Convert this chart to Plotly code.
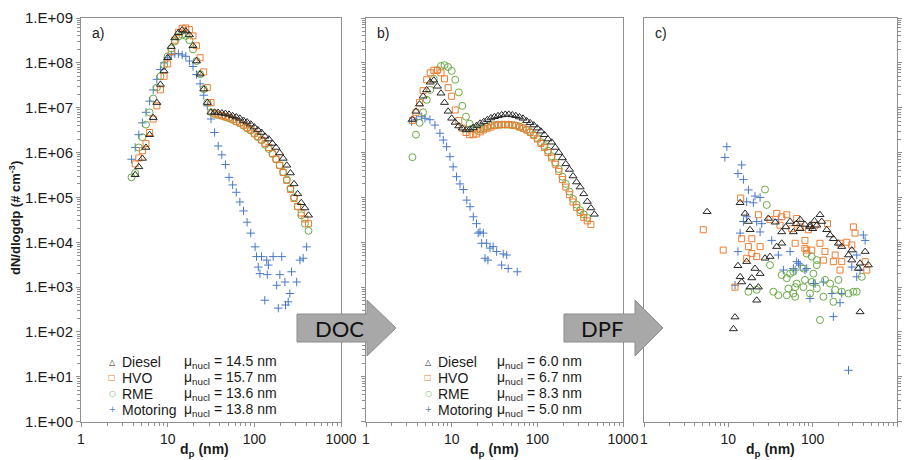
import plotly.graph_objects as go

# ---------------------------------------------------------------------------
# Particle number size distributions (dN/dlogdp, # cm^-3) vs mobility diameter
# a) engine out, b) after DOC, c) after DPF
# ---------------------------------------------------------------------------

fuels = ["Diesel", "HVO", "RME", "Motoring"]
mu_nucl_a = [14.5, 15.7, 13.6, 13.8]
mu_nucl_b = [6.0, 6.7, 8.3, 5.0]

# ----- panel a: engine out -----
dp_a = [3.83, 4.22, 4.64, 5.11, 5.62, 6.19, 6.81, 7.50, 8.25, 9.09, 10.0, 11.0, 12.1,
        13.3, 14.7, 16.2, 17.8, 19.6, 21.5, 23.7, 26.1, 28.7, 31.6, 34.8, 38.3, 42.2,
        46.4, 51.1, 56.2, 61.9, 68.1, 75.0, 82.5, 90.9, 100, 110, 121, 133, 147, 162,
        178, 196, 215, 237, 261, 287, 316, 348, 383, 422]
diesel_a = [None, 3.2e5, 4.8e5, 7.4e5, 1.3e6, 2.5e6, 6.0e6, 1.3e7, 3.3e7, 6.6e7, 1.3e8,
            2.3e8, 3.6e8, 4.7e8, 5.4e8, 5.1e8, 4.2e8, 2.4e8, 1.1e8, 5.6e7, 2.6e7, 1.3e7,
            7.9e6, 7.9e6, 7.8e6, 7.6e6, 7.4e6, 7.1e6, 6.6e6, 6.2e6, 5.8e6, 5.2e6, 4.8e6,
            4.3e6, 3.7e6, 3.2e6, 2.8e6, 2.3e6, 2.0e6, 1.6e6, 1.3e6, 9.8e5, 7.4e5, 5.2e5,
            3.5e5, 2.0e5, 1.2e5, 7.6e4, 5.8e4, 4.0e4]
hvo_a = [None, 5.6e5, 7.6e5, 1.1e6, 1.6e6, 2.8e6, 5.6e6, 1.1e7, 2.5e7, 5.0e7, 9.5e7,
         1.8e8, 3.2e8, 4.8e8, 5.9e8, 6.0e8, 5.5e8, 4.0e8, 2.4e8, 1.3e8, 6.3e7, 2.8e7,
         1.3e7, 7.6e6, 6.9e6, 6.6e6, 6.3e6, 6.0e6, 5.5e6, 5.0e6, 4.6e6, 4.1e6, 3.6e6,
         3.2e6, 2.7e6, 2.3e6, 1.9e6, 1.6e6, 1.3e6, 9.5e5, 7.2e5, 5.2e5, 3.6e5, 2.4e5,
         1.5e5, 9.5e4, 6.3e4, 4.5e4, 3.3e4, 2.6e4]
rme_a = [2.8e5, 3.5e5, 1.3e6, 2.2e6, 4.2e6, 7.9e6, 1.6e7, 2.8e7, 5.0e7, 8.9e7, 1.4e8,
         2.1e8, 3.0e8, 3.8e8, 4.2e8, 4.0e8, 3.2e8, 2.0e8, 1.1e8, 5.6e7, 2.6e7, 1.3e7,
         7.9e6, 7.2e6, 6.9e6, 6.6e6, 6.2e6, 5.8e6, 5.4e6, 4.9e6, 4.5e6, 4.0e6, 3.5e6,
         3.1e6, 2.6e6, 2.2e6, 1.9e6, 1.5e6, 1.2e6, 9.3e5, 7.1e5, 5.2e5, 3.7e5, 2.5e5,
         1.6e5, 1.0e5, 6.3e4, 4.0e4, 2.6e4, 1.8e4]
dp_mot_a = [3.83, 4.22, 4.64, 5.11, 5.62, 6.19, 6.81, 7.50, 8.25, 9.09, 10.0, 11.0, 12.1,
            13.3, 14.7, 16.2, 17.8, 19.6, 21.5, 23.7, 26.1, 28.7, 31.6, 34.8, 38.3, 42.2,
            46.4, 51.1, 56.2, 61.9, 68.1, 75.0, 82.5, 90.9, 102, 106, 111, 116, 121, 132,
            139, 141, 145, 165, 181, 189, 197, 207, 225, 229, 246, 257, 269, 308, 336,
            366, 401]
mot_a = [7.1e5, 1.3e6, 2.5e6, 4.6e6, 7.9e6, 1.4e7, 2.5e7, 4.3e7, 7.1e7, 1.0e8, 1.3e8,
         1.5e8, 1.6e8, 1.6e8, 1.5e8, 1.4e8, 1.1e8, 8.3e7, 5.5e7, 3.4e7, 1.9e7, 1.1e7,
         5.6e6, 2.8e6, 1.4e6, 8.9e5, 5.4e5, 2.8e5, 1.9e5, 1.3e5, 7.9e4, 5.0e4, 2.8e4,
         1.6e4, 7.9e3, 4.8e3, 2.8e3, 2.0e3, 4.8e3, 510, 4.0e3, 1.9e3, 3.1e3, 4.8e3,
         1.1e3, 340, 1.9e3, 4.8e3, 1.3e3, 400, 470, 720, 2.2e3, 1.3e3, 4.0e3, 4.4e3,
         7.9e3]

# ----- panel b: downstream of the DOC -----
dp_b = [3.48, 3.83, 4.22, 4.64, 5.11, 5.62, 6.19, 6.81, 7.50, 8.25, 9.09, 10.0, 11.0,
        12.1, 13.3, 14.7, 16.2, 17.8, 19.6, 21.5, 23.7, 26.1, 28.7, 31.6, 34.8, 38.3,
        42.2, 46.4, 51.1, 56.2, 61.9, 68.1, 75.0, 82.5, 90.9, 100, 110, 121, 133, 147,
        162, 178, 196, 215, 237, 261, 287, 316, 348, 383, 422, 464]
diesel_b = [5.5e6, 8.3e6, 1.2e7, 1.8e7, 2.5e7, 3.7e7, 4.1e7, 3.0e7, 2.1e7, 1.3e7, 8.3e6,
            5.8e6, 4.7e6, 3.9e6, 3.5e6, 3.2e6, 3.3e6, 3.6e6, 4.0e6, 4.5e6, 4.9e6, 5.4e6,
            5.9e6, 6.3e6, 6.6e6, 6.9e6, 7.1e6, 7.1e6, 6.9e6, 6.6e6, 6.2e6, 5.8e6, 5.1e6,
            4.6e6, 4.1e6, 3.5e6, 3.0e6, 2.5e6, 2.0e6, 1.7e6, 1.3e6, 1.0e6, 7.6e5, 5.6e5,
            4.2e5, 3.0e5, 2.2e5, 1.7e5, 1.2e5, 8.1e4, 5.8e4, 4.2e4]
hvo_b = [5.2e6, 7.9e6, 1.3e7, 2.4e7, 4.2e7, 6.0e7, 6.8e7, 6.9e7, 6.0e7, 4.4e7, 2.8e7,
         1.8e7, 8.9e6, 5.2e6, 3.5e6, 2.8e6, 2.5e6, 2.5e6, 2.6e6, 2.9e6, 3.2e6, 3.5e6,
         3.7e6, 4.0e6, 4.1e6, 4.2e6, 4.2e6, 4.2e6, 4.1e6, 4.0e6, 3.7e6, 3.5e6, 3.2e6,
         2.8e6, 2.4e6, 2.0e6, 1.6e6, 1.3e6, 1.0e6, 7.6e5, 5.5e5, 3.8e5, 2.5e5, 1.7e5,
         1.15e5, 7.9e4, 6.0e4, 4.6e4, 3.6e4, 3.0e4, 2.5e4, None]
rme_b = [7.9e5, 2.5e6, 4.6e6, 7.9e6, 1.5e7, 2.5e7, 4.4e7, 6.8e7, 8.5e7, 8.9e7, 8.1e7,
         6.6e7, 4.2e7, 2.2e7, 1.1e7, 6.3e6, 4.4e6, 3.5e6, 3.2e6, 3.3e6, 3.5e6, 3.8e6,
         4.0e6, 4.1e6, 4.2e6, 4.2e6, 4.2e6, 4.2e6, 4.1e6, 4.0e6, 3.8e6, 3.5e6, 3.2e6,
         2.9e6, 2.5e6, 2.1e6, 1.7e6, 1.4e6, 1.1e6, 8.3e5, 6.0e5, 4.3e5, 2.9e5, 2.0e5,
         1.35e5, 9.3e4, 6.9e4, 5.2e4, 4.2e4, 3.5e4, None, None]
dp_mot_b = [3.41, 3.90, 4.47, 4.88, 5.58, 6.38, 7.29, 7.98, 8.73, 9.55, 10.4, 11.4, 12.5,
            13.7, 15.0, 16.4, 17.9, 19.5, 20.4, 21.4, 22.4, 23.4, 24.5, 25.6, 26.5, 28.0,
            30.5, 33.5, 38.3, 40.0, 43.9, 45.7, 58.3]
mot_b = [4.9e6, 5.5e6, 6.3e6, 5.8e6, 5.4e6, 4.1e6, 2.7e6, 1.9e6, 1.35e6, 8.1e5, 4.8e5,
         2.9e5, 2.0e5, 1.5e5, 8.7e4, 6.2e4, 3.7e4, 2.6e4, 1.6e4, 1.7e4, 9.5e3, 1.6e4,
         4.4e3, 9.5e3, 4.0e3, 7.4e3, 8.0e3, 6.2e3, 3.1e3, 5.5e3, 5.2e3, 2.6e3, 2.2e3]

# ----- panel c: downstream of the DPF (scattered, near detection limit) -----
dp_diesel_c = [5.6, 13.8, 15.8, 17.3, 18.1, 29.8, 37.5, 43.0, 27.2, 31.2, 13.0, 16.5, 20.7,
               23.8, 13.8, 14.4, 19.0, 18.1, 22.7, 21.7, 12.0, 11.5, 54, 59, 71, 93, 112,
               71, 122, 128, 93, 147, 161, 176, 202, 221, 266, 291, 291, 365, 419, 458,
               348, 365, 43, 36, 81, 48, 64, 100, 105]
diesel_c = [4.8e4, 7.6e4, 4.4e4, 2.9e4, 1.9e4, 3.4e4, 8.0e3, 9.5e3, 4.4e3, 4.8e3, 3.0e3,
            3.7e3, 2.6e3, 2.0e3, 1.7e3, 1.3e3, 1.6e3, 1.0e3, 1.0e3, 510, 215, 117, 2.9e4,
            1.7e4, 2.0e4, 2.4e4, 2.4e4, 3.2e4, 4.1e4, 2.9e4, 2.2e4, 1.9e4, 1.45e4, 1.2e4,
            9.5e3, 8.0e3, 5.2e3, 6.7e3, 4.0e3, 3.4e3, 6.2e3, 3.1e3, 2.6e3, 280, 1.7e4,
            2.8e4, 2.5e4, 2.2e4, 2.6e4, 2.0e4, 3.0e4]
dp_hvo_c = [5.05, 8.7, 14.4, 19.0, 17.3, 19.0, 23.8, 21.7, 22.7, 16.5, 12.0, 14.0, 37.5,
            49.3, 41, 56.5, 71, 89, 107, 81, 97.5, 304, 318, 254, 291, 211, 122, 140, 134,
            176, 221, 211, 185, 81, 62, 85, 419, 438, 43, 31.2, 64.7, 150]
hvo_c = [1.9e4, 6.7e3, 1.2e4, 1.2e4, 8.0e3, 5.6e3, 8.0e3, 4.8e3, 4.1e4, 4.4e3, 1.0e3,
         9.7e4, 4.4e4, 4.1e4, 2.4e4, 2.0e4, 2.2e4, 1.9e4, 2.4e4, 7.3e3, 6.7e3, 2.2e4,
         1.6e4, 1.0e4, 8.7e3, 9.5e3, 9.5e3, 6.2e3, 4.0e3, 3.7e3, 3.7e3, 2.4e3, 5.2e3,
         1.1e4, 9.5e3, 6.7e3, 3.7e3, 2.4e3, 3.7e4, 3.2e4, 3.4e4, 2.6e4]
dp_rme_c = [27.2, 28.5, 31.2, 43, 49.3, 59, 64.7, 81, 102, 112, 17.3, 21.7, 34.2, 39.2,
            51.5, 49.3, 59, 77.6, 93, 85, 54, 62, 62, 97.5, 112, 140, 161, 202, 185, 221,
            176, 134, 266, 304, 333, 382, 122, 97.5, 112, 77.6]
rme_c = [1.5e5, 6.8e4, 3.1e3, 1.86e3, 1.58e3, 2.2e3, 1.2e3, 1.45e3, 2.0e3, 3.1e3, 790,
         870, 790, 660, 930, 660, 720, 1.0e3, 720, 5.6e3, 2.0e3, 1.0e3, 610, 1.3e3, 930,
         1.45e3, 1.2e3, 1.45e3, 870, 790, 470, 610, 720, 790, 790, 1.7e3, 185, 4.8e3,
         4.0e3, 2.6e3]
dp_mot_c = [9.6, 9.1, 14.4, 13.0, 15.1, 17.3, 20.7, 23.8, 16.5, 19.8, 16.5, 21.7, 24.9,
            23.8, 15.1, 13.8, 13.0, 12.0, 39.2, 32.7, 39.2, 54, 64.7, 59, 71, 85, 107, 93,
            399, 419, 333, 291, 365, 333, 45, 68, 62, 81, 102, 134, 169, 221, 211, 176,
            266]
mot_c = [1.35e6, 7.8e5, 5.3e5, 3.4e5, 2.5e5, 1.47e5, 1.07e5, 1.0e5, 8.0e4, 7.6e4, 3.7e4,
         2.9e4, 2.6e4, 1.7e4, 2.9e4, 1.6e4, 6.2e3, 1.1e3, 3.2e4, 1.1e4, 5.2e3, 6.2e3,
         3.7e3, 2.6e3, 3.1e3, 2.6e3, 1.2e3, 560, 1.45e4, 1.1e4, 5.2e3, 2.8e3, 2.4e3,
         1.7e3, 2.4e3, 3.4e3, 2.4e3, 2.4e3, 1.2e3, 1.3e3, 720, 720, 450, 220, 14]

# axis tick labels
x_tick_vals = [1, 10, 100, 1000]
x_tick_labels = ["1", "10", "100", "1000"]
y_tick_vals = [1e0, 1e1, 1e2, 1e3, 1e4, 1e5, 1e6, 1e7, 1e8, 1e9]
y_tick_labels = ["1.E+00", "1.E+01", "1.E+02", "1.E+03", "1.E+04",
                 "1.E+05", "1.E+06", "1.E+07", "1.E+08", "1.E+09"]

series = {
    "a": {"Diesel": (dp_a, diesel_a), "HVO": (dp_a, hvo_a),
          "RME": (dp_a, rme_a), "Motoring": (dp_mot_a, mot_a)},
    "b": {"Diesel": (dp_b, diesel_b), "HVO": (dp_b, hvo_b),
          "RME": (dp_b, rme_b), "Motoring": (dp_mot_b, mot_b)},
    "c": {"Diesel": (dp_diesel_c, diesel_c), "HVO": (dp_hvo_c, hvo_c),
          "RME": (dp_rme_c, rme_c), "Motoring": (dp_mot_c, mot_c)},
}
for panel in series.values():
    for xs, ys in panel.values():
        assert len(xs) == len(ys)

styles = {
    "Diesel": dict(symbol="triangle-up-open", color="#262626", size=7),
    "HVO": dict(symbol="square-open", color="#ED7D31", size=6),
    "RME": dict(symbol="circle-open", color="#6AAA45", size=7),
    "Motoring": dict(symbol="cross-thin-open", color="#4A78C8", size=6),
}
legend_glyph = {"Diesel": "\u25B3", "HVO": "\u25A1", "RME": "\u25CB", "Motoring": "+"}

# ----- page geometry (pixels) -----
W, H = 912, 460
panel_px = {"a": (81, 341), "b": (366, 623), "c": (644, 897)}
Y_TOP, Y_BOT = 18, 421.7
AXIS_GREY = "#8f8f8f"
FONT = "Liberation Sans, Arial, sans-serif"


def fx(p):
    return p / W


def fy(p):
    return 1 - p / H


fig = go.Figure()

axis_ids = {"a": ("x", "y"), "b": ("x2", "y2"), "c": ("x3", "y3")}
draw_order = ["Motoring", "RME", "HVO", "Diesel"]
for key, panel in series.items():
    xa, ya = axis_ids[key]
    for name in draw_order:
        xs, ys = panel[name]
        st = styles[name]
        fig.add_trace(go.Scatter(
            x=xs, y=ys, mode="markers", name=name, showlegend=False,
            xaxis=xa, yaxis=ya,
            marker=dict(symbol=st["symbol"], size=st["size"], color=st["color"],
                        line=dict(color=st["color"], width=1)),
        ))

x_minor = [m * 10 ** e for e in range(0, 3) for m in range(2, 10)]
y_minor = [m * 10 ** e for e in range(0, 9) for m in range(2, 10)]

layout_axes = {}
for i, key in enumerate(["a", "b", "c"]):
    sfx = "" if i == 0 else str(i + 1)
    x0, x1 = panel_px[key]
    layout_axes["xaxis" + sfx] = dict(
        type="log", range=[0, 3], domain=[fx(x0), fx(x1)],
        anchor="y" + sfx, automargin=False,
        tickmode="array", tickvals=x_tick_vals, ticktext=x_tick_labels,
        ticks="outside", ticklen=4, tickcolor=AXIS_GREY, tickwidth=1,
        minor=dict(tickmode="array", tickvals=x_minor, ticks="outside",
                   ticklen=3, tickcolor=AXIS_GREY, showgrid=False),
        showline=True, linecolor=AXIS_GREY, linewidth=1, mirror=True,
        showgrid=False, zeroline=False,
        tickfont=dict(family=FONT, size=14, color="#1a1a1a"),
    )
    layout_axes["yaxis" + sfx] = dict(
        type="log", range=[0, 9], domain=[fy(Y_BOT), fy(Y_TOP)],
        anchor="x" + sfx, side="right" if key == "c" else "left", automargin=False,
        tickmode="array", tickvals=y_tick_vals, ticktext=y_tick_labels,
        showticklabels=(key == "a"),
        ticks="outside", ticklen=4, tickcolor=AXIS_GREY, tickwidth=1,
        minor=dict(tickmode="array", tickvals=y_minor, ticks="outside",
                   ticklen=3, tickcolor=AXIS_GREY, showgrid=False),
        showline=True, linecolor=AXIS_GREY, linewidth=1, mirror=True,
        showgrid=False, zeroline=False,
        tickfont=dict(family=FONT, size=15, color="#1a1a1a"),
    )

annotations = []


def note(px, py, text, size=14, family=FONT, color="#1a1a1a", xanchor="left", **kw):
    annotations.append(dict(xref="paper", yref="paper", x=fx(px), y=fy(py), text=text,
                            xanchor=xanchor, yanchor="middle", showarrow=False,
                            font=dict(family=family, size=size, color=color), **kw))


# panel letters
for key, label in zip(["a", "b", "c"], ["a)", "b)", "c)"]):
    note(panel_px[key][0] + 9, 33, label)
# x-axis titles
for cx in [204, 494.5, 770.5]:
    note(cx, 450, "<b>d<sub>p</sub> (nm)</b>", xanchor="center")
# y-axis title
note(15, 218, "<b>dN/dlogdp (# cm<sup>-3</sup>)</b>", size=13, xanchor="center",
     textangle=-90)

# legend blocks with nucleation-mode mean diameters
row_y = [362, 377.5, 393.5, 409.5]
for (sym_x, name_x, mu_x), mus in [((112, 120, 182), mu_nucl_a), ((428, 436, 495), mu_nucl_b)]:
    for name, mu, ry in zip(fuels, mus, row_y):
        note(sym_x, ry, legend_glyph[name], size=8, family="DejaVu Sans",
             color=styles[name]["color"], xanchor="center")
        note(name_x, ry, name)
        note(mu_x, ry, f"\u03bc<sub>nucl</sub> = {mu:.1f} nm")

# after-treatment arrows between the panels
shapes = []


def arrow_path(x_left, x_base, x_tip, y_mid=328, body=14, head=28):
    pts = [(x_left, y_mid - body), (x_base, y_mid - body), (x_base, y_mid - head),
           (x_tip, y_mid), (x_base, y_mid + head), (x_base, y_mid + body),
           (x_left, y_mid + body)]
    return "M " + " L ".join(f"{fx(px):.5f},{fy(py):.5f}" for px, py in pts) + " Z"


for (xl, xb, xt), label, tx in [((297, 367, 396), "DOC", 339),
                                ((564, 635, 663), "DPF", 602)]:
    shapes.append(dict(type="path", xref="paper", yref="paper",
                       path=arrow_path(xl, xb, xt), fillcolor="#a8a8a8",
                       line=dict(color="#8c8c8c", width=1), layer="above"))
    note(tx, 328, label, size=22, family="Lato, Open Sans, sans-serif",
         color="#111111", xanchor="center")

fig.update_layout(
    width=W, height=H, margin=dict(l=0, r=0, t=0, b=0, autoexpand=False),
    paper_bgcolor="white", plot_bgcolor="white",
    showlegend=False, annotations=annotations, shapes=shapes,
    **layout_axes,
)

fig.write_html("out.html")
